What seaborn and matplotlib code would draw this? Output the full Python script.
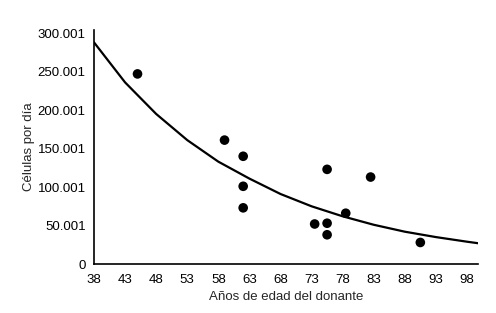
import matplotlib
matplotlib.use('Agg')
import matplotlib.pyplot as plt
import pandas as pd
import seaborn as sns

# donor age vs cells per day (thousands)
edad = [45, 59, 62, 62, 62, 75.5, 82.5, 78.5, 73.5, 75.5, 75.5, 90.5]
celulas = [247, 161, 140, 101, 73, 123, 113, 66, 52, 53, 38, 28]

# fitted trend line as drawn in the chart
curva_x = [38, 43, 48, 53, 58, 63, 68, 73, 78, 83, 88, 93, 98, 99.8]
curva_y = [288, 236, 195, 161, 133, 111, 91, 75, 62, 51, 42, 35, 29, 27]

xticks = list(range(38, 99, 5))
yticks = [0, 50, 100, 150, 200, 250, 300]
ytick_labels = ['0', '50.001', '100.001', '150.001', '200.001', '250.001', '300.001']

sns.set_style('white')
plt.rcParams['font.family'] = ['Liberation Sans', 'DejaVu Sans']

puntos = pd.DataFrame({'edad': edad, 'celulas': celulas})
curva = pd.DataFrame({'x': curva_x, 'y': curva_y})

fig = plt.figure(figsize=(4.96, 3.13), dpi=100)
ax = fig.add_axes([0.1895, 0.1565, 0.7745, 0.7475])

sns.lineplot(data=curva, x='x', y='y', ax=ax, color='black', linewidth=1.6)
sns.scatterplot(data=puntos, x='edad', y='celulas', ax=ax, color='black',
                s=48, edgecolor='none', zorder=3)

ax.set_xlim(38, 99.8)
ax.set_ylim(0, 304)
ax.set_xticks(xticks)
ax.set_yticks(yticks)
ax.set_yticklabels(ytick_labels)
ax.tick_params(axis='both', length=0, labelsize=9.5, colors='black')
ax.tick_params(axis='x', pad=7)
ax.tick_params(axis='y', pad=6)
for s in ['top', 'right']:
    ax.spines[s].set_visible(False)
for s in ['left', 'bottom']:
    ax.spines[s].set_color('black')
    ax.spines[s].set_linewidth(1.2)

ax.set_xlabel('Años de edad del donante', fontsize=9.5, labelpad=4)
ax.set_ylabel('Células por día', fontsize=9.5, labelpad=2)

plt.savefig('out.png', dpi=100)
plt.close()
